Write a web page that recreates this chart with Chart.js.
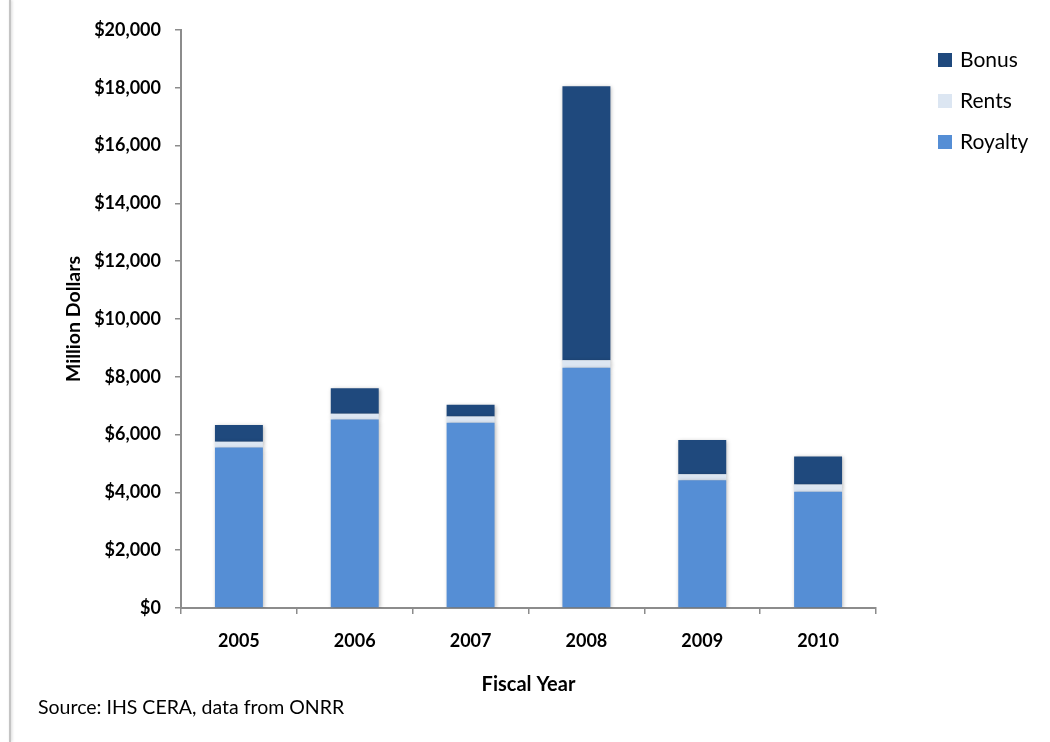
<!DOCTYPE html>
<html>
<head>
<meta charset="utf-8">
<script src="https://cdn.jsdelivr.net/npm/chart.js@4/dist/chart.umd.min.js"></script>
<style>
  html, body { margin: 0; padding: 0; background: #fff; }
  #wrap { position: relative; width: 1050px; height: 742px; overflow: hidden; }
  #frame { position: absolute; left: 9px; top: 0; width: 2px; height: 742px; background: #c4c4c4; box-shadow: 1px 0 3px rgba(0,0,0,0.18); }
  canvas { position: absolute; left: 0; top: 0; }
  #legend { position: absolute; left: 938px; top: 46px; font-family: Lato, "Open Sans", sans-serif; font-size: 21px; color: #000; }
  #legend .item { height: 41px; display: flex; align-items: flex-start; }
  #legend .sw { width: 14px; height: 14px; margin-top: 7px; margin-right: 8px; }
  #source { position: absolute; left: 38px; top: 695px; font-family: Lato, "Open Sans", sans-serif; font-size: 19.5px; color: #000; }
</style>
</head>
<body>
<div id="wrap">
  <div id="frame"></div>
  <canvas id="c" width="1050" height="742"></canvas>
  <div id="legend"></div>
  <div id="source">Source: IHS CERA, data from ONRR</div>
</div>
<script>
// Fiscal years on the category axis
const years = ['2005', '2006', '2007', '2008', '2009', '2010'];

// Revenue components, million dollars
const royalty = [5550, 6520, 6410, 8310, 4420, 4020];
const rents   = [200, 205, 220, 265, 210, 250];
const bonus   = [580, 875, 405, 9475, 1185, 975];

// Value-axis ticks
const yMin = 0;
const yMax = 20000;
const yStep = 2000;

const seriesNames = ['Royalty', 'Rents', 'Bonus'];
const seriesColors = ['#558ed5', '#dce6f2', '#1f497d'];
const seriesData = [royalty, rents, bonus];

const FONT = 'Lato, "Open Sans", sans-serif';
const AXIS = '#8c8c8c';

// Soft drop shadow under the bar segments
const barShadow = {
  id: 'barShadow',
  beforeDatasetsDraw(chart) {
    const ctx = chart.ctx;
    ctx.save();
    ctx.shadowColor = 'rgba(0,0,0,0.28)';
    ctx.shadowBlur = 4;
    ctx.shadowOffsetX = 1;
    ctx.shadowOffsetY = 1;
  },
  afterDatasetsDraw(chart) {
    chart.ctx.restore();
  }
};

const chart = new Chart(document.getElementById('c'), {
  type: 'bar',
  data: {
    labels: years,
    datasets: seriesNames.map((name, i) => ({
      label: name,
      data: seriesData[i],
      backgroundColor: seriesColors[i],
      borderWidth: 0,
      barPercentage: 0.414,
      categoryPercentage: 1.0
    }))
  },
  options: {
    responsive: false,
    animation: false,
    events: [],
    layout: { padding: { left: 56, right: 174, top: 30, bottom: 34 } },
    plugins: {
      legend: { display: false },
      tooltip: { enabled: false }
    },
    scales: {
      x: {
        stacked: true,
        afterFit(scale) { scale.height = 100; },
        grid: {
          display: true,
          offset: true,
          drawOnChartArea: false,
          drawTicks: true,
          tickLength: 6,
          color: AXIS,
          lineWidth: 1.5
        },
        border: { display: true, color: AXIS, width: 2 },
        ticks: {
          color: '#000',
          font: { family: FONT, size: 18, weight: 'bold' },
          padding: 16,
          maxRotation: 0
        },
        title: {
          display: true,
          text: 'Fiscal Year',
          color: '#000',
          font: { family: FONT, size: 20, weight: 'bold' },
          padding: { top: 0, bottom: 11 }
        }
      },
      y: {
        stacked: true,
        min: yMin,
        max: yMax,
        afterFit(scale) { scale.width = 125; },
        grid: {
          display: true,
          drawOnChartArea: false,
          drawTicks: true,
          tickLength: 6,
          color: AXIS,
          lineWidth: 1.5
        },
        border: { display: true, color: AXIS, width: 2 },
        ticks: {
          stepSize: yStep,
          color: '#000',
          font: { family: FONT, size: 18, weight: 'bold' },
          padding: 14,
          callback: v => '$' + Number(v).toLocaleString('en-US')
        },
        title: {
          display: true,
          text: 'Million Dollars',
          color: '#000',
          font: { family: FONT, size: 19.5, weight: 'bold' },
          padding: { top: 6, bottom: 0 }
        }
      }
    }
  },
  plugins: [barShadow]
});

// Legend, listed top-down in stacking order (top segment first)
const legend = document.getElementById('legend');
for (let i = seriesNames.length - 1; i >= 0; i--) {
  const item = document.createElement('div');
  item.className = 'item';
  const sw = document.createElement('div');
  sw.className = 'sw';
  sw.style.background = seriesColors[i];
  const tx = document.createElement('span');
  tx.textContent = seriesNames[i];
  item.appendChild(sw);
  item.appendChild(tx);
  legend.appendChild(item);
}
</script>
</body>
</html>
